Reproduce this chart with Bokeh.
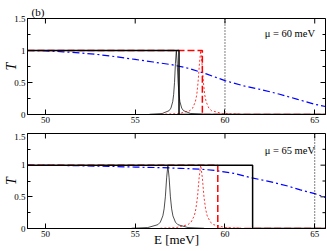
from math import pi
from bokeh.plotting import figure
from bokeh.layouts import column
from bokeh.models import (Range1d, LinearAxis, FixedTicker, Label, Span,
                          NumeralTickFormatter)
from bokeh.embed import file_html
from bokeh.resources import INLINE

FONT = "Liberation Serif"

E_MIN, E_MAX = 49.0, 65.6
T_MIN, T_MAX = 0.0, 1.5
x_ticks = [50, 55, 60, 65]
y_ticks = [0, 0.5, 1, 1.5]
y_minor = [0.25, 0.75, 1.25]

# ---------------- top panel : mu = 60 meV ----------------
mu_top = 60
label_top = "\u03bc = 60 meV"
step_black_top_E = [49.0, 57.44, 57.44, 65.6]
step_black_top_T = [1.0, 1.0, 0.0, 0.0]
step_red_top_E = [49.0, 58.74, 58.74, 65.6]
step_red_top_T = [1.0, 1.0, 0.0, 0.0]
peak_black_top_E = [55.8, 56.5, 56.89, 56.99, 57.09, 57.14, 57.19, 57.24, 57.29,
                    57.34, 57.39, 57.44, 57.49, 57.59, 57.69, 58.09, 58.79]
peak_black_top_T = [0.004, 0.015, 0.06, 0.1, 0.2, 0.31, 0.5, 0.8, 1.0,
                    0.8, 0.5, 0.31, 0.2, 0.1, 0.06, 0.015, 0.004]
peak_red_top_E = [56.45, 57.45, 58.05, 58.2, 58.35, 58.43, 58.5, 58.58, 58.65,
                  58.72, 58.8, 58.87, 58.95, 59.1, 59.25, 59.85, 60.85]
peak_red_top_T = [0.004, 0.015, 0.06, 0.1, 0.2, 0.31, 0.5, 0.8, 1.0,
                  0.8, 0.5, 0.31, 0.2, 0.1, 0.06, 0.015, 0.004]
blue_top_E = [49, 50, 51, 52, 53, 54, 55, 56, 57, 58, 59, 60, 61, 62, 63, 64, 65, 65.6]
blue_top_T = [1.0, 0.995, 0.98, 0.96, 0.935, 0.9, 0.86, 0.82, 0.78, 0.72, 0.63,
              0.53, 0.45, 0.39, 0.32, 0.24, 0.16, 0.125]

# ---------------- bottom panel : mu = 65 meV ----------------
mu_bot = 65
label_bot = "\u03bc = 65 meV"
step_black_bot_E = [49.0, 61.54, 61.54, 65.6]
step_black_bot_T = [1.0, 1.0, 0.0, 0.0]
step_red_bot_E = [49.0, 59.6, 59.6, 65.6]
step_red_bot_T = [1.0, 1.0, 0.0, 0.0]
peak_black_bot_E = [54.8, 55.7, 56.26, 56.4, 56.54, 56.61, 56.68, 56.75, 56.82,
                    56.89, 56.96, 57.03, 57.1, 57.24, 57.38, 57.94, 58.84]
peak_black_bot_T = [0.004, 0.015, 0.06, 0.1, 0.2, 0.31, 0.5, 0.8, 1.0,
                    0.8, 0.5, 0.31, 0.2, 0.1, 0.06, 0.015, 0.004]
peak_red_bot_E = [56.4, 57.3, 57.93, 58.11, 58.29, 58.38, 58.47, 58.56, 58.65,
                  58.74, 58.83, 58.92, 59.01, 59.19, 59.37, 60.0, 60.9]
peak_red_bot_T = [0.004, 0.015, 0.06, 0.1, 0.2, 0.31, 0.5, 0.8, 1.0,
                  0.8, 0.5, 0.31, 0.2, 0.1, 0.06, 0.015, 0.004]
blue_bot_E = [49, 51, 53, 55, 56.5, 57.5, 58.65, 59.5, 60.5, 61.5, 62.5, 63.5, 64.2, 65, 65.6]
blue_bot_T = [1.0, 0.995, 0.985, 0.97, 0.96, 0.95, 0.937, 0.915, 0.87, 0.8, 0.74,
              0.67, 0.61, 0.55, 0.49]

panel_tag = "(b)"
y_title = "T"
x_title = "E [meV]"


def style_axis(ax, ticks, minor):
    ax.ticker = FixedTicker(ticks=ticks, minor_ticks=minor)
    ax.axis_line_color = "black"
    ax.axis_line_width = 1
    ax.major_tick_line_color = "black"
    ax.minor_tick_line_color = "black"
    ax.major_tick_in = 5
    ax.major_tick_out = 0
    ax.minor_tick_in = 3
    ax.minor_tick_out = 0
    ax.major_label_text_font = FONT
    ax.major_label_text_font_size = "9px"
    ax.major_label_text_color = "black"
    ax.major_label_standoff = 2
    ax.axis_label_text_font = FONT
    ax.axis_label_text_color = "black"


def make_panel(fh, bt, bb, mu, txt, txt_y, sbE, sbT, srE, srT, pbE, pbT, prE, prT, bE, bT,
               title=None, xlab=None):
    p = figure(frame_width=298, frame_height=fh, title=title,
               min_border_left=27, min_border_right=2,
               min_border_top=bt, min_border_bottom=bb,
               x_range=Range1d(E_MIN, E_MAX), y_range=Range1d(T_MIN, T_MAX),
               output_backend="svg", toolbar_location=None,
               x_axis_location=None, y_axis_location=None)
    p.grid.visible = False
    p.outline_line_color = "black"
    p.outline_line_width = 1
    p.background_fill_color = "white"
    p.border_fill_color = "white"

    if title:
        p.title.text_font = FONT
        p.title.text_font_size = "11px"
        p.title.text_font_style = "normal"
        p.title.align = "left"
        p.title.offset = 4
        p.title.standoff = 2
        p.title.text_color = "black"

    xb = LinearAxis()
    style_axis(xb, x_ticks, [])
    if xlab:
        xb.axis_label = xlab
        xb.axis_label_text_font_size = "13px"
        xb.axis_label_text_font_style = "normal"
        xb.axis_label_standoff = -8
    p.add_layout(xb, "below")
    yl = LinearAxis(formatter=NumeralTickFormatter(format="0.[0]"))
    style_axis(yl, y_ticks, y_minor)
    yl.axis_label = y_title
    yl.axis_label_text_font_size = "14px"
    yl.axis_label_text_font_style = "italic"
    yl.axis_label_standoff = -8
    p.add_layout(yl, "left")

    # mirrored inward ticks on the top and right edges
    p.scatter(x_ticks, [T_MAX] * len(x_ticks), marker="dash", size=10, angle=pi / 2,
              line_color="black", line_width=1)
    p.scatter([E_MAX] * len(y_ticks), y_ticks, marker="dash", size=10,
              line_color="black", line_width=1)
    p.scatter([E_MAX] * len(y_minor), y_minor, marker="dash", size=6,
              line_color="black", line_width=1)

    p.line(bE, bT, color="#0000ff", line_width=1.2, line_dash="7 3 2 3")
    p.line(pbE, pbT, color="black", line_width=0.7)
    p.line(prE, prT, color="#ff0000", line_width=0.8, line_dash="2 2")
    p.line(srE, srT, color="#ff0000", line_width=1.5, line_dash="7 3")
    p.line(sbE, sbT, color="black", line_width=1.5)
    p.add_layout(Span(location=mu, dimension="height", line_color="black",
                      line_width=1, line_dash="1 2"))

    p.add_layout(Label(x=287.5, y=txt_y, x_units="screen", y_units="screen", text=txt,
                       text_font=FONT, text_font_size="10.5px", text_align="right",
                       text_baseline="middle", text_color="black"))
    return p


p1 = make_panel(96, 18, 19, mu_top, label_top, 81,
                step_black_top_E, step_black_top_T, step_red_top_E, step_red_top_T,
                peak_black_top_E, peak_black_top_T, peak_red_top_E, peak_red_top_T,
                blue_top_E, blue_top_T, title=panel_tag)

p2 = make_panel(95, 0, 23, mu_bot, label_bot, 78,
                step_black_bot_E, step_black_bot_T, step_red_bot_E, step_red_bot_T,
                peak_black_bot_E, peak_black_bot_T, peak_red_bot_E, peak_red_bot_T,
                blue_bot_E, blue_bot_T, xlab=x_title)

layout = column(p1, p2)
open("out.html", "w").write(file_html(layout, INLINE))
